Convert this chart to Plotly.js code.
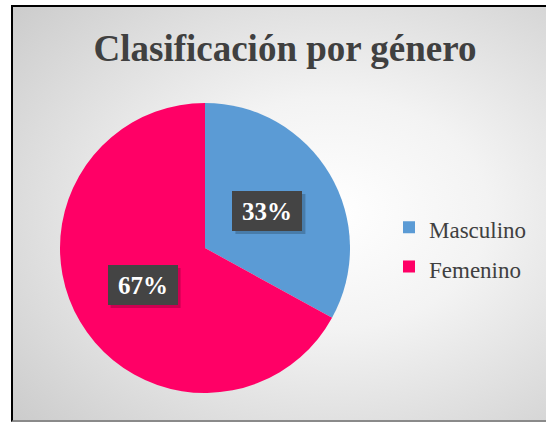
<!DOCTYPE html>
<html>
<head>
<meta charset="utf-8">
<script src="https://cdn.plot.ly/plotly-3.0.1.min.js"></script>
<style>
  html, body { margin: 0; padding: 0; background: #ffffff; overflow: hidden; }
  #wrap { position: relative; width: 546px; height: 422px; overflow: hidden; background: #ffffff; }
  #frame {
    position: absolute; left: 11px; top: 5px; width: 600px; height: 413px;
    border-left: 2px solid #000; border-top: 2px solid #000; border-bottom: 2px solid #8a8a8a;
    background: radial-gradient(ellipse 75% 80% at 53% 50%, #ffffff 0%, #f3f3f3 35%, #c8c8c8 100%);
  }
  #chart { position: absolute; left: 0; top: 0; width: 546px; height: 422px; }
</style>
</head>
<body>
<div id="wrap">
  <div id="frame"></div>
  <div id="chart"></div>
</div>
<script>
const categories = ["Masculino", "Femenino"];
const values = [33, 67];
const sliceColors = ["#5B9BD5", "#FF0066"];
const chartTitle = "Clasificación por género";

const W = 546, H = 422;
const serif = "Liberation Serif, Times New Roman, serif";
const domX = [60 / W, 350 / W];
const domY = [1 - 393 / H, 1 - 103 / H];
const boxW = 70, boxH = 40, pad = 4;

// label positions derived from the data: mid-angle of each slice at half radius
const total = values.reduce((a, b) => a + b, 0);
const cx = (domX[0] + domX[1]) / 2, cy = (domY[0] + domY[1]) / 2;
const rPx = Math.min((domX[1] - domX[0]) * W, (domY[1] - domY[0]) * H) / 2;
let cum = 0;
const annotations = [];
const shapes = [];
values.forEach((v) => {
  const mid = (cum + v / 2) / total * 2 * Math.PI;
  cum += v;
  const rr = 0.5 * rPx;
  const ax = cx + rr * Math.sin(mid) / W;
  const ay = cy + rr * Math.cos(mid) / H;
  // soft drop shadow behind the label box
  shapes.push({
    type: "rect", xref: "paper", yref: "paper", layer: "above",
    x0: ax + (-boxW / 2 + 3) / W, x1: ax + (boxW / 2 + 3) / W,
    y0: ay + (-boxH / 2 - 3) / H, y1: ay + (boxH / 2 - 3) / H,
    fillcolor: "rgba(0,0,0,0.2)", line: { width: 0 }
  });
  annotations.push({
    xref: "paper", yref: "paper",
    x: ax, y: ay,
    text: "<b>" + Math.round(v / total * 100) + "%</b>",
    showarrow: false,
    width: boxW - 2 * pad, height: boxH - 2 * pad,
    borderpad: pad, borderwidth: 0,
    bgcolor: "#444444",
    font: { family: serif, size: 25, color: "#ffffff" },
    xanchor: "center", yanchor: "middle"
  });
});

const data = [{
  type: "pie",
  labels: categories.map(c => '<span style="font-size:23px">' + c + '</span>'),
  values: values,
  marker: { colors: sliceColors, line: { width: 0 } },
  sort: false,
  direction: "clockwise",
  rotation: 0,
  textinfo: "none",
  hoverinfo: "label+percent",
  domain: { x: domX, y: domY }
}];

const layout = {
  width: W, height: H,
  margin: { l: 0, r: 0, t: 0, b: 0 },
  paper_bgcolor: "rgba(0,0,0,0)",
  plot_bgcolor: "rgba(0,0,0,0)",
  title: {
    text: "<b>" + chartTitle + "</b>",
    font: { family: serif, size: 37, color: "#404040" },
    x: 285 / W, xanchor: "center",
    y: 1 - 48 / H, yanchor: "middle", yref: "paper"
  },
  showlegend: true,
  legend: {
    x: 389 / W, xanchor: "left",
    y: 1 - 247 / H, yanchor: "middle",
    bgcolor: "rgba(0,0,0,0)",
    font: { family: serif, size: 28, color: "#404040" }
  },
  shapes: shapes,
  annotations: annotations
};

Plotly.newPlot("chart", data, layout, { displayModeBar: false, staticPlot: true });
</script>
</body>
</html>
